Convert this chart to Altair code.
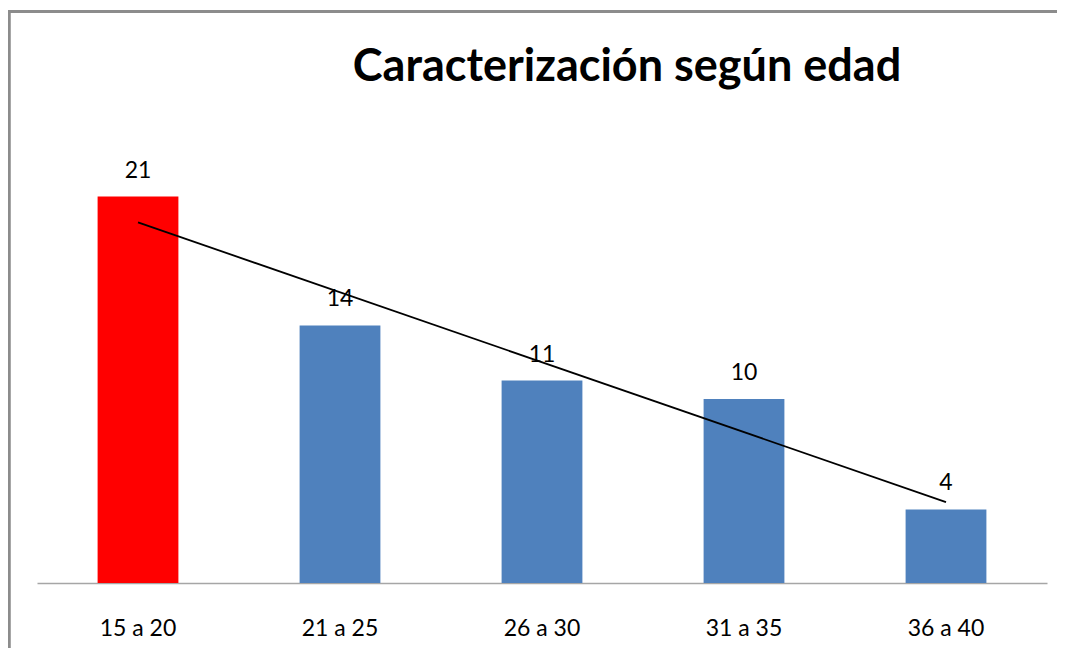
import json
import altair as alt
import pandas as pd

categorias = ["15 a 20", "21 a 25", "26 a 30", "31 a 35", "36 a 40"]
valores = [21, 14, 11, 10, 4]
colores = ["#FF0000", "#4F81BD", "#4F81BD", "#4F81BD", "#4F81BD"]
titulo = "Caracterización según edad"

df = pd.DataFrame({"grupo": categorias, "valor": valores, "orden": list(range(len(categorias)))})

FONT = "Lato"

x_enc = alt.X("grupo:N", sort=categorias, title=None,
              scale=alt.Scale(paddingInner=0.6, paddingOuter=0.3),
              axis=alt.Axis(labelAngle=0, ticks=False, tickSize=0, labelPadding=52,
                            labelBaseline="alphabetic", labelFont=FONT, labelFontSize=23,
                            labelColor="#000000", domainColor="#A6A6A6", domainWidth=1.5,
                            grid=False))
y_scale = alt.Scale(domain=[0, 25], nice=False, zero=True)
y_enc = alt.Y("valor:Q", title=None, axis=None, scale=y_scale)

base = alt.Chart(df)

bars = base.mark_bar().encode(
    x=x_enc, y=y_enc,
    color=alt.Color("grupo:N", scale=alt.Scale(domain=categorias, range=colores), legend=None),
)

labels = base.mark_text(dy=-19, baseline="alphabetic", font=FONT, fontSize=23, color="#000000").encode(
    x=alt.X("grupo:N", sort=categorias), y=y_enc, text=alt.Text("valor:Q"),
)

trend = base.transform_regression("orden", "valor", method="linear").transform_calculate(
    grupo=f"{json.dumps(categorias)}[datum.orden]"
).mark_line(color="#000000", strokeWidth=1.8).encode(
    x=alt.X("grupo:N", sort=categorias), y=y_enc,
)

border_left = base.mark_rule(color="#8C8C8C", strokeWidth=2.5).encode(
    x=alt.value(-28), y=alt.value(-111.5), y2=alt.value(540)
)
border_top = base.mark_rule(color="#8C8C8C", strokeWidth=2.5).encode(
    x=alt.value(-29), x2=alt.value(1040), y=alt.value(-111.5)
)

chart = alt.layer(bars, trend, labels, border_left, border_top).properties(
    width=1010, height=460,
    autosize=alt.AutoSizeParams(type="none"),
    padding={"left": 29, "top": 115, "right": 10, "bottom": 65},
    title=alt.TitleParams(titulo, font=FONT, fontSize=45, fontWeight="bold", color="#000000",
                          anchor="middle", frame="group", dx=85, offset=0, dy=116,
                          baseline="alphabetic"),
).configure_view(stroke=None)

chart.save("out.html", embed_options={"renderer": "svg", "actions": False})
